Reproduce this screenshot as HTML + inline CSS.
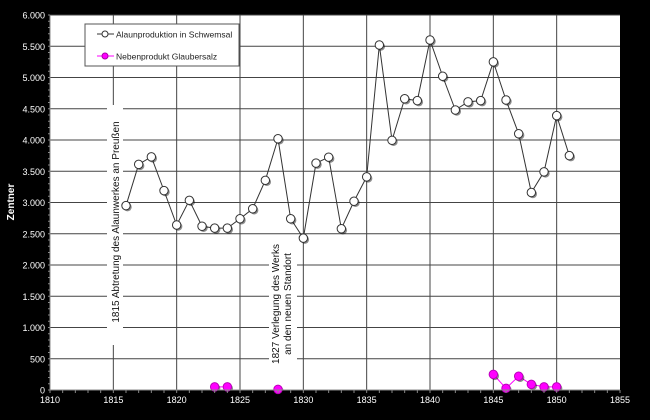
<!DOCTYPE html>
<html><head><meta charset="utf-8"><style>
html,body{margin:0;padding:0;background:#000;}
svg{display:block;font-family:"Liberation Sans",sans-serif;}
</style></head><body>
<svg id="chart" width="650" height="420" viewBox="0 0 650 420" xmlns="http://www.w3.org/2000/svg">
<rect width="650" height="420" fill="#000"/>
<rect x="50" y="15" width="570" height="375" fill="#fff"/>
<g id="grid"></g>
<g id="ann"></g>
<g id="series"></g>
<g id="axes"></g>
<text x="14" y="202" transform="rotate(-90 14 202)" text-anchor="middle" fill="#fff" font-size="10" font-weight="bold">Zentner</text>
<g>
<rect x="85" y="24" width="154" height="42" fill="#fff" stroke="#555" stroke-width="1"/>
<line x1="97" y1="34" x2="114" y2="34" stroke="#333"/>
<circle cx="105" cy="34" r="3" fill="#fff" stroke="#333"/>
<text x="116" y="37.5" font-size="8.5" fill="#222">Alaunproduktion in Schwemsal</text>
<line x1="97" y1="56" x2="114" y2="56" stroke="#f0f"/>
<circle cx="105" cy="56" r="3" fill="#f0f" stroke="#a0a"/>
<text x="116" y="59.5" font-size="8.5" fill="#222">Nebenprodukt Glaubersalz</text>
</g>
</svg>
<script>
const years = [1816,1817,1818,1819,1820,1821,1822,1823,1824,1825,1826,1827,1828,1829,1830,1831,1832,1833,1834,1835,1836,1837,1838,1839,1840,1841,1842,1843,1844,1845,1846,1847,1848,1849,1850,1851];
const alaun = [2950,3610,3730,3190,2640,3035,2620,2590,2590,2740,2900,3355,4020,2740,2430,3630,3725,2580,3020,3410,5520,3995,4660,4630,5600,5020,4480,4610,4630,5250,4640,4100,3160,3490,4390,3750];
const saltYears = [1823,1824,1828,1845,1846,1847,1848,1849,1850];
const salt = [50,50,10,250,27,220,90,50,50];
const xTicks = [1810,1815,1820,1825,1830,1835,1840,1845,1850,1855];
const yTicks = [0,500,1000,1500,2000,2500,3000,3500,4000,4500,5000,5500,6000];
const yLabels = ["0","500","1.000","1.500","2.000","2.500","3.000","3.500","4.000","4.500","5.000","5.500","6.000"];

const NS="http://www.w3.org/2000/svg";
const X0=50,X1=620,Y0=390,Y1=15;
const sx=v=>X0+(v-1810)/45*(X1-X0);
const sy=v=>Y0-v/6000*(Y0-Y1);
function mk(tag,attrs,parent){const e=document.createElementNS(NS,tag);for(const k in attrs)e.setAttribute(k,attrs[k]);parent.appendChild(e);return e;}
const grid=document.getElementById('grid'),axes=document.getElementById('axes'),ser=document.getElementById('series'),ann=document.getElementById('ann');

yTicks.forEach((v,i)=>{
  if(v>0){const l=mk('line',{x1:X0,x2:X1,y1:sy(v),y2:sy(v),stroke:'#444','stroke-width':1},grid);
  
  }
  const t=mk('text',{x:45,y:sy(v)+3.5,'text-anchor':'end','font-size':9,fill:'#fff'},axes);
  t.textContent=yLabels[i];
  
  
});
for(let v=0;v<=6000;v+=100){mk('line',{x1:X0-2,x2:X0,y1:sy(v),y2:sy(v),stroke:'#888'},axes);}
xTicks.forEach(v=>{
  if(v>1810&&v<1855){const l=mk('line',{x1:sx(v),x2:sx(v),y1:Y1,y2:Y0,stroke:'#444','stroke-width':1},grid);
  
  }
  const t=mk('text',{x:sx(v),y:403,'text-anchor':'middle','font-size':9,fill:'#fff'},axes);
  t.textContent=v;
  
  
});
for(let v=1810;v<=1855;v++){mk('line',{x1:sx(v),x2:sx(v),y1:Y0,y2:Y0+3,stroke:'#888'},axes);}
mk('line',{x1:X0,x2:X0,y1:Y1,y2:Y0,stroke:'#888'},axes);
mk('line',{x1:X0,x2:X1,y1:Y0,y2:Y0,stroke:'#888'},axes);

// annotations
const a1=mk('rect',{x:107,y:105,width:16,height:240,fill:'#fff'},ann);


const t1=mk('text',{x:119,y:222,transform:'rotate(-90 119 222)','text-anchor':'middle','font-size':10,fill:'#111'},ann);
t1.textContent='1815 Abtretung des Alaunwerkes an Preußen';


const a2=mk('rect',{x:269,y:240,width:28,height:128,fill:'#fff'},ann);


const t2=mk('text',{x:279,y:304,transform:'rotate(-90 279 304)','text-anchor':'middle','font-size':10,fill:'#111'},ann);
t2.textContent='1827 Verlegung  des Werks';


const t3=mk('text',{x:291,y:304,transform:'rotate(-90 291 304)','text-anchor':'middle','font-size':10,fill:'#111'},ann);
t3.textContent='an den neuen Standort';



function series(xs,ys,stroke,fill,name){
  const pts=xs.map((x,i)=>sx(x)+','+sy(ys[i])).join(' ');
  const pl=mk('polyline',{points:pts,fill:'none',stroke:stroke,'stroke-width':1},ser);
  
  
  xs.forEach((x,i)=>{
    mk('circle',{cx:sx(x)+1.5,cy:sy(ys[i])+1.5,r:4.2,fill:'#000',opacity:0.45},ser);
    const c=mk('circle',{cx:sx(x),cy:sy(ys[i]),r:4.2,fill:fill,stroke:fill==='#fff'?'#333':'#b0b',"stroke-width":1},ser);
    
    
  });
}
series(years,alaun,'#333','#fff','alaun');
series(saltYears.slice(0,2),salt.slice(0,2),'#f0f','#f0f','salt-a');
series(saltYears.slice(2,3),salt.slice(2,3),'#f0f','#f0f','salt-b');
series(saltYears.slice(3),salt.slice(3),'#f0f','#f0f','salt-c');
</script>
</body></html>
